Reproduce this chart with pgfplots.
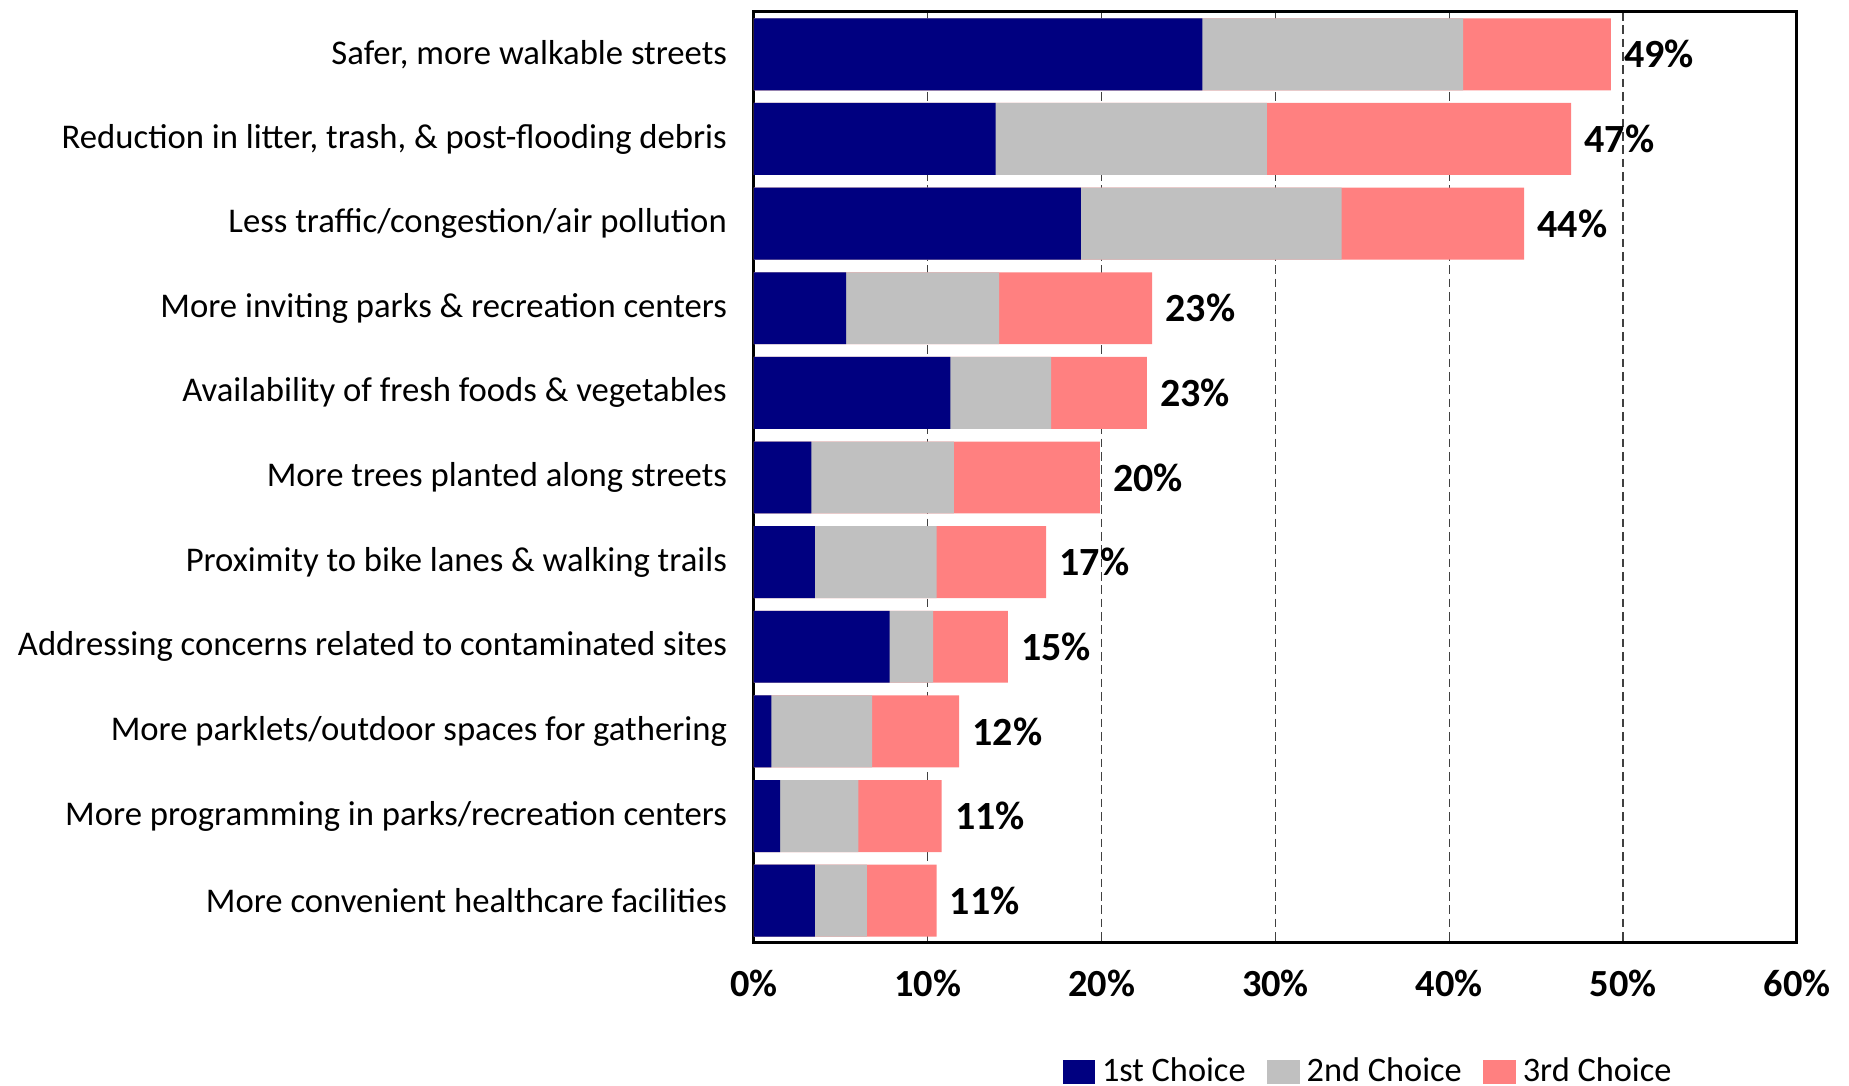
\documentclass[border=0pt]{standalone}
\usepackage{fontspec}
\setmainfont{Carlito}
\usepackage{pgfplots}
\pgfplotsset{compat=1.18}
\usepackage{pgfplotstable}

\definecolor{first}{HTML}{000080}
\definecolor{second}{HTML}{C0C0C0}
\definecolor{third}{HTML}{FF8080}

% cumulative share (%) at the end of each segment, one row per item, top to bottom
\pgfplotstableread{
y  e1   e2   e3   total
1  25.8 40.8 49.3 49
2  13.9 29.5 47.0 47
3  18.8 33.8 44.3 44
4  5.3  14.1 22.9 23
5  11.3 17.1 22.6 23
6  3.3  11.5 19.9 20
7  3.5  10.5 16.8 17
8  7.8  10.3 14.6 15
9  1.0  6.8  11.8 12
10 1.5  6.0  10.8 11
11 3.5  6.5  10.5 11
}\choices

\pgfplotsset{
  sq/.style={legend image code/.code={\fill[#1] (0pt,-3.3pt) rectangle (9.4pt,3.3pt);}},
}

\begin{document}
\begin{tikzpicture}
\begin{axis}[
  at={(0,0)}, anchor=south west,
  scale only axis,
  width=312.9pt, height=279.3pt,
  xbar, bar shift=0pt,
  bar width=0.85,
  xmin=0, xmax=60,
  ymin=0.5, ymax=11.5,
  y dir=reverse,
  xtick={0,10,...,60},
  xticklabels={0\%,10\%,20\%,30\%,40\%,50\%,60\%},
  ytick={1,...,11},
  yticklabels={
    {Safer, more walkable streets},
    {Reduction in litter, trash, \& post-flooding debris},
    {Less traffic/congestion/air pollution},
    {More inviting parks \& recreation centers},
    {Availability of fresh foods \& vegetables},
    {More trees planted along streets},
    {Proximity to bike lanes \& walking trails},
    {Addressing concerns related to contaminated sites},
    {More parklets/outdoor spaces for gathering},
    {More programming in parks/recreation centers},
    {More convenient healthcare facilities}},
  major tick length=0pt,
  xmajorgrids,
  grid style={dash pattern=on 2.6pt off 1.4pt, black!75, line width=0.4pt},
  axis line style={line width=0.9pt},
  yticklabel style={font=\fontsize{10.4}{12}\selectfont, xshift=-4.6pt},
  xticklabel style={font=\fontsize{11.5}{13}\selectfont\bfseries, yshift=-4.5pt},
  legend style={at={(0.591,-0.162)}, anchor=south, draw=none,
    font=\fontsize{10.3}{12}\selectfont, legend columns=3,
    /tikz/every even column/.append style={column sep=4.5pt},
    inner sep=0pt},
]
\addlegendimage{sq=first}
\addlegendentry{1st Choice}
\addlegendimage{sq=second}
\addlegendentry{2nd Choice}
\addlegendimage{sq=third}
\addlegendentry{3rd Choice}
% longest segment first, shorter ones drawn over it
\addplot[fill=third, draw=none, forget plot,
  point meta=explicit symbolic,
  nodes near coords={\pgfplotspointmeta\%},
  every node near coord/.append style={anchor=west, black,
    font=\fontsize{12}{14}\selectfont\bfseries, xshift=0.5pt}]
  table[x=e3, y=y, meta=total] {\choices};
\addplot[fill=second, draw=none, forget plot] table[x=e2, y=y] {\choices};
\addplot[fill=first, draw=none, forget plot] table[x=e1, y=y] {\choices};
\end{axis}
\pgfresetboundingbox
\useasboundingbox (-226.2pt,-42.9pt) rectangle (328.5pt,282.9pt);
\end{tikzpicture}
\end{document}
